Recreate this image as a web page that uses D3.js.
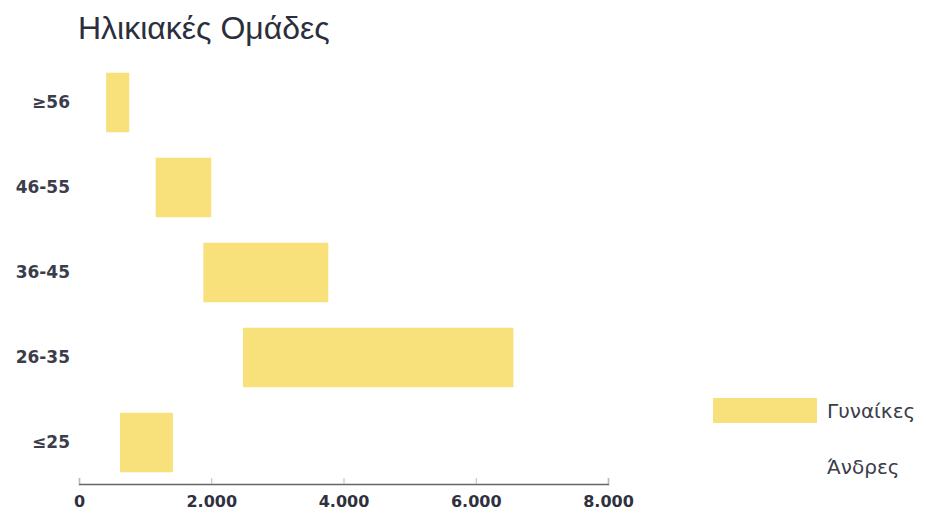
<!DOCTYPE html>
<html>
<head>
  <meta charset="utf-8">
  <title>Ηλικιακές Ομάδες</title>
  <style>
  body { margin: 0; background: #fff; }
  .title {
    font-family: "Liberation Sans", Arial, sans-serif;
    font-size: 32px;
    fill: #2b2e3b;
  }
  .y-axis text {
    font-family: "DejaVu Sans", sans-serif;
    font-weight: bold;
    font-size: 17px;
    fill: #3b3d4a;
  }
  .x-axis text {
    font-family: "DejaVu Sans", sans-serif;
    font-weight: bold;
    font-size: 16px;
    fill: #2f3140;
  }
  .x-axis path { stroke: #666; stroke-width: 1.3; }
  .x-axis line { stroke: #bbb; }
  .legend-font {
    font-family: "DejaVu Sans", sans-serif;
    font-size: 20px;
    fill: #3b3d4a;
  }
  </style>
</head>
<body>
  <div id="chart"></div>
  <script src="https://cdn.jsdelivr.net/npm/d3@7"></script>
  <script>
  // data
  var ageGroups = ["≥56", "46-55", "36-45", "26-35", "≤25"];
  var men   = [410, 1160, 1880, 2480, 620];
  var women = [350, 840, 1890, 4090, 800];
  var seriesNames = ["Άνδρες", "Γυναίκες"];
  var xTicks = [0, 2000, 4000, 6000, 8000];

  var width = 926;
  var height = 515;

  var svg = d3.select("#chart")
    .append("svg")
    .attr("width", width)
    .attr("height", height);

  //build rows for the stack
  var rows = ageGroups.map(function(g, i) {
    return {group: g, "Άνδρες": men[i], "Γυναίκες": women[i]};
  });
  var stacked = d3.stack().keys(seriesNames)(rows);

  var x = d3.scaleLinear()
    .domain([0, 8000])
    .range([79, 608]);

  var y = d3.scaleBand()
    .domain(ageGroups)
    .range([60, 485])
    .paddingInner(0.3)
    .paddingOuter(0.15);

  //men are drawn white, so only the women part shows
  var color = d3.scaleOrdinal()
    .domain(["Γυναίκες", "Άνδρες"])
    .range(["#f8e07a", "#ffffff"]);

  svg.append("text")
    .attr("class", "title")
    .attr("x", 78)
    .attr("y", 39)
    .text("Ηλικιακές Ομάδες");

  //bars
  svg.append("g")
    .selectAll("g")
    .data(stacked)
    .enter().append("g")
    .attr("fill", function(d) { return color(d.key); })
    .selectAll("rect")
    .data(function(d) { return d; })
    .enter().append("rect")
    .attr("x", function(d) { return x(d[0]); })
    .attr("y", function(d) { return y(d.data.group); })
    .attr("width", function(d) { return x(d[1]) - x(d[0]); })
    .attr("height", y.bandwidth());

  //y axis, labels only
  svg.append("g")
    .attr("class", "y-axis")
    .attr("transform", "translate(79,0)")
    .call(d3.axisLeft(y).tickSize(0).tickPadding(9))
    .call(function(g) { g.select(".domain").remove(); });

  //x axis with ticks pointing up
  var locale = d3.formatLocale({decimal: ",", thousands: ".", grouping: [3], currency: ["", ""]});
  svg.append("g")
    .attr("class", "x-axis")
    .attr("transform", "translate(0,484)")
    .call(d3.axisBottom(x).tickValues(xTicks).tickFormat(locale.format(","))
      .tickSizeInner(-6).tickSizeOuter(-6).tickPadding(12));

  //legend
  var legend = svg.append("g")
    .attr("class", "legend-font")
    .selectAll("g")
    .data(color.domain())
    .enter().append("g")
    .attr("transform", function(d, i) {
      return "translate(713," + (398 + i * 56) + ")";
    });

  legend.append("rect")
    .attr("width", 104)
    .attr("height", 25)
    .attr("fill", color);

  legend.append("text")
    .attr("x", 114)
    .attr("y", 12.5)
    .attr("dy", "0.35em")
    .text(function(d) { return d; });
  </script>
</body>
</html>
